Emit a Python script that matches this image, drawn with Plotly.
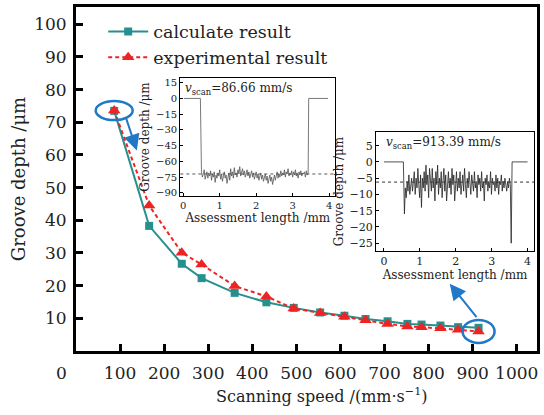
import plotly.graph_objects as go

# ---- main curve: groove depth vs scanning speed ----
speed = [86.66, 166, 240, 285, 360, 432, 494, 554, 609, 657, 707, 752, 784, 827, 867, 913.39]
calc_depth = [73.5, 38.3, 26.7, 22.3, 17.8, 14.9, 13.2, 11.8, 10.8, 9.8, 9.1, 8.3, 8.1, 7.8, 7.3, 7.1]
exp_depth = [73.6, 44.5, 30.1, 26.5, 19.9, 16.7, 13.0, 11.6, 10.5, 9.4, 8.3, 7.5, 7.3, 7.0, 6.5, 6.0]

x_ticks = [100, 200, 300, 400, 500, 600, 700, 800, 900, 1000]
y_ticks = [10, 20, 30, 40, 50, 60, 70, 80, 90, 100]

# ---- surface profile at v_scan = 86.66 mm/s ----
prof1_lead_x = [0.02, 0.47]
prof1_lead_y = [0, 0]
prof1_start, prof1_step = 0.50, 0.025
prof1_vals = [
    -70, -75, -72, -68, -77, -73, -70, -76, -71, -74,
    -69, -78, -72, -75, -70, -80, -73, -76, -71, -74,
    -68, -77, -72, -79, -74, -70, -76, -73, -81, -75,
    -71, -78, -67, -74, -70, -76, -66, -73, -71, -75,
    -68, -72, -65, -74, -70, -67, -73, -69, -75, -71,
    -68, -74, -70, -76, -72, -69, -75, -71, -77, -73,
    -70, -76, -72, -78, -74, -71, -77, -73, -79, -75,
    -72, -78, -74, -81, -76, -73, -79, -75, -82, -77,
    -73, -78, -74, -70, -76, -72, -75, -69, -74, -71,
    -73, -68, -75, -70, -72, -67, -74, -71, -73, -69,
    -75, -70, -73, -68, -74, -71, -76, -70, -73, -69,
    -74, -71, -72, -70, -75, -69, -73, -71,
]
prof1_tail_x = [3.44, 3.97]
prof1_tail_y = [0, 0]
prof1_mean = -72
prof1_yticks = [15, 0, -15, -30, -45, -60, -75, -90]

# ---- surface profile at v_scan = 913.39 mm/s ----
prof2_lead_x = [0.0, 0.54]
prof2_lead_y = [0, 0]
prof2_start, prof2_step = 0.57, 0.025
prof2_vals = [
    -16, -8, -11, -6, -9, -4, -10, -7, -5, -9,
    -6, -3, -10, -5, -8, -2, -7, -11, -4, -14,
    -5, -8, -3, -9, -1, -7, -4, -11, -2, -6,
    -9, -2, -8, -5, -12, -3, -7, -1, -10, -5,
    -8, -3, -11, -6, -2, -9, -4, -12, -6, -3,
    -8, -5, -10, -2, -7, -4, -12, -6, -3, -9,
    -5, -8, -3, -10, -6, -4, -9, -2, -7, -11,
    -5, -8, -3, -7, -10, -4, -6, -9, -3, -8,
    -6, -11, -4, -7, -5, -9, -3, -8, -6, -12,
    -5, -7, -4, -9, -6, -8, -3, -10, -5, -7,
    -6, -9, -4, -8, -5, -10, -6, -7, -4, -9,
    -6, -8, -5, -7, -9, -6, -8, -5, -7,
]
prof2_tail_x = [3.545, 3.57, 4.0]
prof2_tail_y = [-25, 0, 0]
prof2_mean = -6.2
prof2_yticks = [5, 0, -5, -10, -15, -20, -25]

insets_xticks = [0, 1, 2, 3, 4]

TEAL = "#26908e"
RED = "#ee2424"
BLUE = "#1f78c8"
SERIF = "DejaVu Serif"
INK = "#222222"


def profile(lead_x, lead_y, start, step, vals, tail_x, tail_y):
    xs = list(lead_x) + [start + i * step for i in range(len(vals))] + list(tail_x)
    ys = list(lead_y) + list(vals) + list(tail_y)
    return xs, ys


def minus(v):
    return str(v).replace("-", "\u2212")


fig = go.Figure()

fig.add_trace(go.Scatter(
    x=speed, y=calc_depth, name="calculate result", mode="lines+markers",
    line=dict(color=TEAL, width=2),
    marker=dict(symbol="square", size=8, color=TEAL),
))
fig.add_trace(go.Scatter(
    x=speed, y=exp_depth, name="experimental result", mode="lines+markers",
    line=dict(color=RED, width=2, dash="4px,3px"),
    marker=dict(symbol="triangle-up", size=11, color=RED),
))

p1x, p1y = profile(prof1_lead_x, prof1_lead_y, prof1_start, prof1_step,
                   prof1_vals, prof1_tail_x, prof1_tail_y)
fig.add_trace(go.Scatter(x=p1x, y=p1y, xaxis="x2", yaxis="y2", mode="lines",
                         line=dict(color="#555555", width=0.8), showlegend=False))
p2x, p2y = profile(prof2_lead_x, prof2_lead_y, prof2_start, prof2_step,
                   prof2_vals, prof2_tail_x, prof2_tail_y)
fig.add_trace(go.Scatter(x=p2x, y=p2y, xaxis="x3", yaxis="y3", mode="lines",
                         line=dict(color="#222222", width=0.8), showlegend=False))

axis_common = dict(showline=True, linecolor="black", mirror=True, ticks="inside",
                   tickcolor="black", showgrid=False, zeroline=False)

inset1_font = dict(family=SERIF, size=10, color=INK)
inset2_font = dict(family=SERIF, size=11, color=INK)
inset_title_font = dict(family=SERIF, size=12, color=INK)

fig.update_layout(
    width=544, height=415,
    margin=dict(l=76, r=4, t=7, b=64),
    paper_bgcolor="white", plot_bgcolor="white",
    font=dict(family=SERIF, color=INK),
    showlegend=True,
    legend=dict(x=0.059, y=0.981, xanchor="left", yanchor="top",
                bgcolor="rgba(0,0,0,0)", font=dict(family=SERIF, size=17.5, color=INK),
                tracegroupgap=0, itemwidth=40),
    xaxis=dict(range=[0, 1046], tickvals=x_ticks, ticklen=7, tickwidth=2.5, linewidth=3,
               tickfont=dict(family=SERIF, size=17, color=INK), ticklabelstandoff=5,
               **axis_common),
    yaxis=dict(range=[0, 105.3], tickvals=y_ticks, ticklen=7, tickwidth=2.5, linewidth=3,
               tickfont=dict(family=SERIF, size=17, color=INK), ticklabelstandoff=3,
               title=dict(text="Groove depth /\u03bcm",
                          font=dict(family=SERIF, size=18, color=INK), standoff=4),
               **axis_common),
    xaxis2=dict(domain=[0.2263, 0.5625], anchor="y2", range=[-0.08, 4.17],
                tickvals=insets_xticks, ticklen=3, linewidth=1.2, tickfont=inset1_font,
                title=dict(text="Assessment length /mm", font=inset_title_font, standoff=1),
                **axis_common),
    yaxis2=dict(domain=[0.4506, 0.7936], anchor="x2", range=[-93, 19.5],
                tickvals=prof1_yticks, ticktext=[minus(v) for v in prof1_yticks],
                ticklen=3, linewidth=1.2, tickfont=inset1_font,
                title=dict(text="Groove depth /\u03bcm", font=inset_title_font, standoff=3),
                **axis_common),
    xaxis3=dict(domain=[0.6509, 0.9935], anchor="y3", range=[-0.22, 4.18],
                tickvals=insets_xticks, ticklen=3, linewidth=1.2, tickfont=inset2_font,
                title=dict(text="Assessment length /mm", font=inset_title_font, standoff=1),
                **axis_common),
    yaxis3=dict(domain=[0.2907, 0.6366], anchor="x3", range=[-27.4, 9.2],
                tickvals=prof2_yticks, ticktext=[minus(v) for v in prof2_yticks],
                ticklen=3, linewidth=1.2, tickfont=inset2_font,
                title=dict(text="Groove depth /\u03bcm", font=inset_title_font, standoff=3),
                **axis_common),
)

# white backgrounds behind insets, and their mean-depth dashed lines
shapes = []
for xr, yr in (("x2", "y2"), ("x3", "y3")):
    shapes.append(dict(type="rect", xref=f"{xr} domain", yref=f"{yr} domain",
                       x0=0, x1=1, y0=0, y1=1, fillcolor="white",
                       line=dict(width=0), layer="below"))
shapes.append(dict(type="line", xref="x2 domain", yref="y2", x0=0, x1=1,
                   y0=prof1_mean, y1=prof1_mean, line=dict(color="#555555", width=1, dash="3px,3px")))
shapes.append(dict(type="line", xref="x3 domain", yref="y3", x0=0, x1=1,
                   y0=prof2_mean, y1=prof2_mean, line=dict(color="#333333", width=1, dash="3px,3px")))

# highlight ellipses around the two profiled speeds
for i, (w, h) in ((0, (37, 19)), (len(speed) - 1, (32, 23))):
    shapes.append(dict(type="circle", xref="x", yref="y",
                       xsizemode="pixel", ysizemode="pixel",
                       xanchor=speed[i], yanchor=exp_depth[i],
                       x0=-w / 2, x1=w / 2, y0=-h / 2, y1=h / 2,
                       line=dict(color=BLUE, width=2.5)))
fig.update_layout(shapes=shapes)

annotations = [
    dict(xref="x2 domain", yref="y2 domain", x=0.02, y=0.99, xanchor="left", yanchor="top",
         text="<i>v</i><sub>scan</sub>=86.66 mm/s", showarrow=False,
         font=dict(family=SERIF, size=12, color=INK)),
    dict(xref="x3 domain", yref="y3 domain", x=0.05, y=0.99, xanchor="left", yanchor="top",
         text="<i>v</i><sub>scan</sub>=913.39 mm/s", showarrow=False,
         font=dict(family=SERIF, size=12, color=INK)),
    # origin label
    dict(xref="paper", yref="paper", x=-0.032, y=0, yshift=-22, xanchor="center",
         yanchor="middle", text="0", showarrow=False,
         font=dict(family=SERIF, size=17, color=INK)),
    # x-axis title
    dict(xref="paper", yref="paper", x=0.534, y=0, yshift=-44, xanchor="center",
         yanchor="middle", text="Scanning speed /(mm\u00b7s<sup>\u22121</sup>)", showarrow=False,
         font=dict(family=SERIF, size=16, color=INK)),
    # arrows from the circled points to their profiles
    dict(xref="x", yref="y", x=138, y=61.4, ax=-11, ay=-33, text="", showarrow=True,
         arrowhead=2, arrowsize=1.6, arrowwidth=2, arrowcolor=BLUE),
    dict(xref="x", yref="y", x=848, y=20.6, ax=28, ay=35, text="", showarrow=True,
         arrowhead=2, arrowsize=1.6, arrowwidth=2, arrowcolor=BLUE),
]
fig.update_layout(annotations=annotations)

fig.write_html("out.html")
